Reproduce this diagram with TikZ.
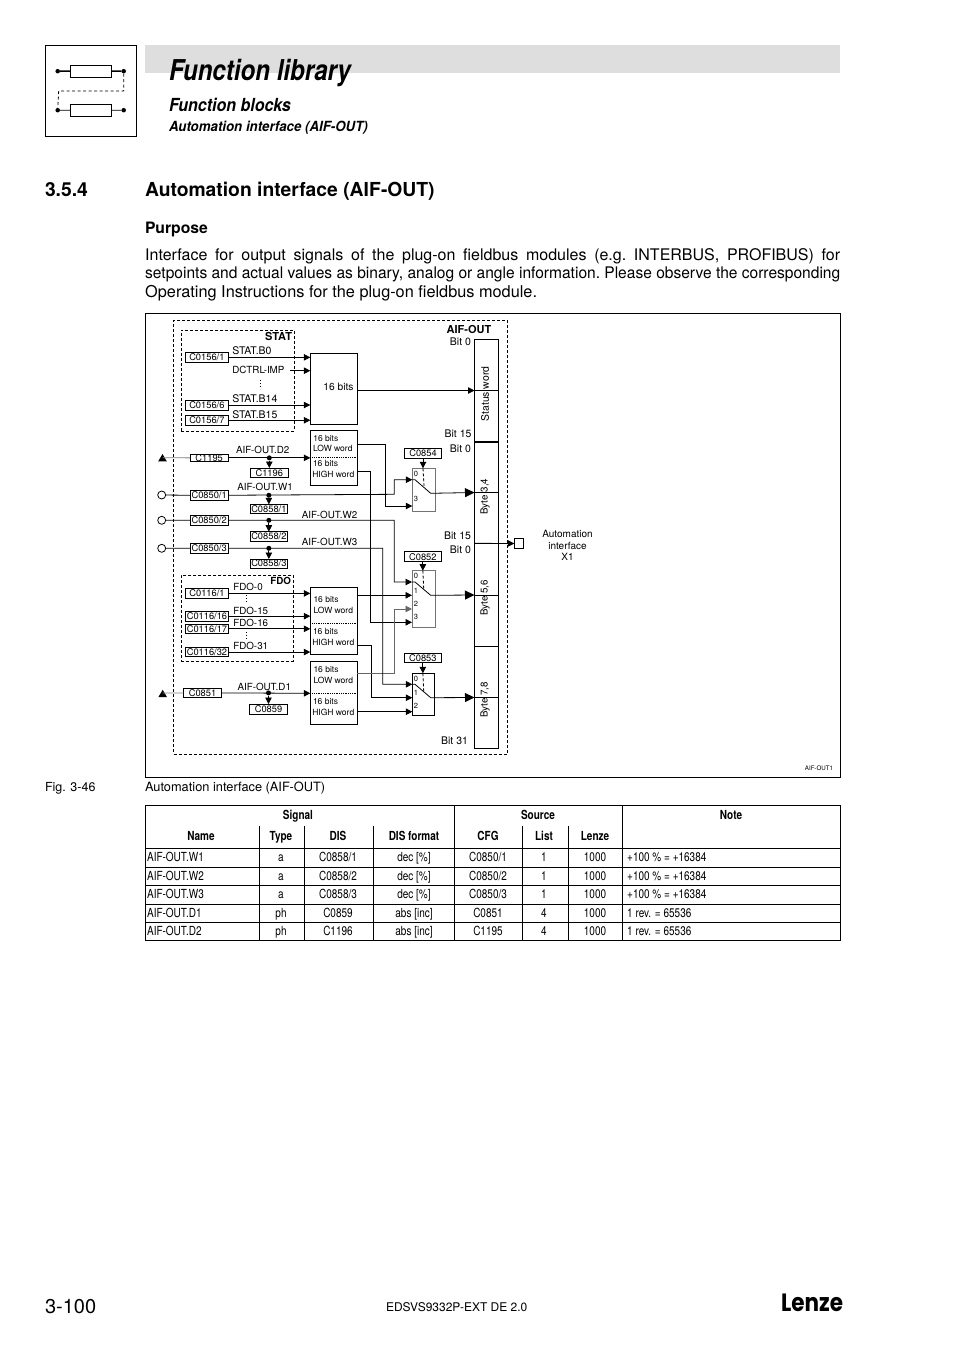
\documentclass[tikz,border=0pt]{standalone}
\usepackage{fontspec}
\usepackage{graphicx}
\setmainfont{TeX Gyre Heros}
\newfontfamily\cond[FakeStretch=0.8]{TeX Gyre Heros}
\newfontfamily\logofont{Poppins}
\usetikzlibrary{arrows.meta}
\newcommand\fs[1]{\fontsize{#1}{#1}\selectfont}
\tikzset{
  rct/.style={draw,rectangle,inner sep=0pt,outer sep=0pt,line width=.8pt},
  dbox/.style={rct,dash pattern=on 3pt off 2pt},
  cbox/.style={rct,font=\fs{9.3}},
  grayb/.style={draw=black!55},
  lbl/.style={inner sep=0pt,outer sep=0pt,font=\fs{9.8}},
  big/.style={lbl,font=\fs{10.5}},
  small/.style={lbl,font=\fs{8.5}},
  num/.style={lbl,font=\fs{7.5}},
  conn/.style={line width=.8pt},
  arr/.style={conn,-{Triangle[length=6.5pt,width=6.5pt]}},
  barr/.style={conn,-{Triangle[length=9.5pt,width=9pt]}},
  gconn/.style={conn,draw=black!50},
  tapdot/.style={circle,fill=black,inner sep=0pt,minimum size=5pt},
  src/.style={circle,draw,inner sep=0pt,minimum size=8pt,line width=.8pt},
  tri/.style={fill=black},
  th/.style={inner sep=0pt,anchor=base,font=\cond\bfseries\fs{12.5}},
  td/.style={inner sep=0pt,anchor=base,font=\cond\fs{12.5}},
  tline/.style={line width=.8pt},
  vdot/.style={line width=1pt,dash pattern=on 1pt off 2pt},
  para/.style={inner sep=0pt,anchor=base west,font=\fs{16}},
}
% [style]{name}{x1}{y1}{x2}{y2}{text}
\newcommand\rn[7][]{%
  \pgfmathsetmacro\myw{#5-#3}\pgfmathsetmacro\myh{#6-#4}%
  \pgfmathsetmacro\mycx{(#3+#5)/2}\pgfmathsetmacro\mycy{(#4+#6)/2}%
  \node[rct,#1,minimum width=\myw pt,minimum height=\myh pt] (#2) at (\mycx,\mycy) {#7};}
\newcommand\trow[8]{%
  \node[td,anchor=base west] (n#1) at (147,#1) {#2};
  \node[td] (t#1) at (281,#1) {#3};
  \node[td] (d#1) at (338,#1) {#4};
  \node[td] (f#1) at (414,#1) {#5};
  \node[td] (c#1) at (488,#1) {#6};
  \node[td] (l#1) at (544,#1) {#7};
  \node[td] (z#1) at (595,#1) {1000};
  \node[td,anchor=base west] (o#1) at (627,#1) {#8};}
\begin{document}
\begin{tikzpicture}[x=1pt,y=-1pt]
\useasboundingbox (0,0) rectangle (954,1350);
% ---------- header
\fill[black!13] (145,45) rectangle (840,73);
\rn{iconbox}{45}{45}{136.7}{136.7}{}
\rn{res1}{70.3}{65}{111.7}{77.3}{}
\rn{res2}{70.3}{104}{111.7}{116.3}{}
\node[circle,fill,inner sep=0pt,minimum size=4.5pt] (p1) at (57.7,71.2) {};
\node[circle,fill,inner sep=0pt,minimum size=4.5pt] (p2) at (123.7,71.2) {};
\node[circle,fill,inner sep=0pt,minimum size=4.5pt] (p3) at (57.7,110.2) {};
\node[circle,fill,inner sep=0pt,minimum size=4.5pt] (p4) at (123.7,110.2) {};
\draw[line width=1.6pt] (p1) -- (res1) (res1) -- (p2);
\draw[conn] (p3) -- (res2) (res2) -- (p4);
\draw[conn,dash pattern=on 3pt off 2.5pt] (p2) |- (58.7,91) -- (p3);
\node[lbl,anchor=base west,font=\bfseries\itshape\fs{28.7}] (title) at (169,80) {\scalebox{.84}[1]{Function library}};
\node[lbl,anchor=base west,font=\bfseries\itshape\fs{18}] (sub1) at (169,111) {\scalebox{.89}[1]{Function blocks}};
\node[lbl,anchor=base west,font=\bfseries\itshape\fs{14}] (sub2) at (169,131.5) {\scalebox{.948}[1]{Automation interface (AIF-OUT)}};
\node[lbl,anchor=base west,font=\bfseries\fs{19.3}] (secnum) at (45,196.6) {3.5.4};
\node[lbl,anchor=base west,font=\bfseries\fs{19.3}] (sectitle) at (145,196.6) {Automation interface (AIF-OUT)};
\node[lbl,anchor=base west,font=\bfseries\fs{15.7}] (purpose) at (145,233.7) {Purpose};
\node[para] (para1) at (145,260.5) {\frenchspacing\makebox[695pt][s]{Interface for output signals of the plug-on fieldbus modules (e.g. INTERBUS, PROFIBUS) for}};
\node[para] (para2) at (145,278.8) {\resizebox{695pt}{\height}{\frenchspacing setpoints and actual values as binary, analog or angle information. Please observe the corresponding}};
\node[para,font=\fs{16.3}] (para3) at (145,297) {Operating Instructions for the plug-on fieldbus module.};
% ---------- diagram frames
\rn{frame}{145.5}{313.5}{840.5}{777}{}
\rn[dbox]{outer}{173.5}{320.5}{507.5}{754}{}
\rn[dbox]{statframe}{181}{330}{294}{431}{}
\rn[dbox]{fdoframe}{181.3}{575}{293.3}{661}{}
% ---------- STAT
\node[lbl,anchor=east,font=\bfseries\fs{11}] (statlbl) at (292,336.7) {STAT};
\rn[cbox]{c1561}{185.7}{352.7}{228}{362}{C0156/1}
\rn[cbox]{c1566}{185.7}{400}{228}{410}{C0156/6}
\rn[cbox]{c1567}{185.7}{415.5}{228}{425}{C0156/7}
\node[big,anchor=west] (sb0) at (232.3,350.7) {STAT.B0};
\node[lbl,anchor=west] (sdc) at (232.3,369.7) {DCTRL-IMP};
\draw[vdot] (260,380) -- (260,389);
\node[big,anchor=west] (sb14) at (232.3,398.7) {STAT.B14};
\node[big,anchor=west] (sb15) at (232.3,414.3) {STAT.B15};
\rn{bits16}{310.3}{353.3}{357.3}{424.3}{}
\node[lbl,font=\fs{10.2}] (bits16t) at (338.5,386.5) {16 bits};
\coordinate (dcstart) at (290,370.7);
\draw[arr] (c1561.east) -- (c1561.east -| bits16.west);
\draw[arr] (dcstart) -- (dcstart -| bits16.west);
\draw[arr] (c1566.east) -- (c1566.east -| bits16.west);
\draw[arr] (c1567.east) -- (c1567.east -| bits16.west);
% ---------- bar
\rn{barS}{474.5}{339.3}{498.5}{441.7}{}
\rn{barB}{474.5}{441.7}{498.5}{543.3}{}
\rn{barC}{474.5}{543.3}{498.5}{646.7}{}
\rn{barD}{474.5}{646.7}{498.5}{748.3}{}
\draw[line width=1.7pt] (barB.north west) -- (barB.north east);
\draw[conn] (barS.west) -- (barS.east);
\draw[conn] (barB.west) -- (barB.east);
\draw[conn] (barC.west) -- (barC.east);
\draw[conn] (barD.west) -- (barD.east);
\node[lbl,rotate=90,font=\fs{10.4}] (tS) at (485,394) {Status word};
\node[lbl,rotate=90] (tB) at (485,496.7) {Byte 3,4};
\node[lbl,rotate=90] (tC) at (485,598) {Byte 5,6};
\node[lbl,rotate=90] (tD) at (485,700) {Byte 7,8};
\node[lbl,font=\bfseries\fs{11}] (aif) at (469,329) {AIF-OUT};
\node[big,anchor=east] (bit0a) at (471,342) {Bit 0};
\node[big,anchor=east] (bit15a) at (471.5,433.3) {Bit 15};
\node[big,anchor=east] (bit0b) at (471,449) {Bit 0};
\node[big,anchor=east] (bit15b) at (471,535.7) {Bit 15};
\node[big,anchor=east] (bit0c) at (471,549.3) {Bit 0};
\node[big,anchor=east] (bit31) at (468,741) {Bit 31};
\draw[arr] (bits16.east |- barS.west) -- (barS.west);
% ---------- X1
\rn{x1}{514.3}{538.7}{523.3}{548.3}{}
\draw[arr] (barB.south west) -- (x1.west);
\node[lbl,align=center,font=\fontsize{10}{11.6}\selectfont] (x1t) at (567.5,545.5) {Automation\\interface\\X1};
\node[lbl,font=\fs{6.2}] (figid) at (819,768.3) {AIF-OUT1};
% ---------- C1195 / D2
\path[tri] (162.5,454) -- (166.8,461.3) -- (158.2,461.3) -- cycle;
\coordinate (t1) at (162.5,457.8);
\rn[cbox]{c1195}{190}{454}{228.3}{461.7}{C1195}
\draw[gconn] (t1) -- (c1195.west);
\node[lbl] (d2l) at (262.7,449.5) {AIF-OUT.D2};
\rn[cbox]{c1196}{250.3}{468}{288.3}{477.3}{C1196}
\rn{hl2}{310.3}{430.3}{357.3}{485.3}{}
\draw[conn,densely dotted] (hl2.west) -- (hl2.east);
\node[small,anchor=west] (h2a) at (313.3,438) {16 bits};
\node[small,anchor=west] (h2b) at (313,448) {LOW word};
\node[small,anchor=west] (h2c) at (313,463.7) {16 bits};
\node[small,anchor=west] (h2d) at (312.3,474) {HIGH word};
\draw[arr] (c1195.east) -- (c1195.east -| hl2.west);
\node[tapdot] (tp1) at (c1196.north |- c1195.east) {};
\draw[arr] (tp1) -- (c1196.north);
% ---------- W1..W3
\node[src] (s1) at (161.7,495) {};
\node[src] (s2) at (161.7,520.3) {};
\node[src] (s3) at (161.7,548.3) {};
\rn[cbox]{c8501}{190}{490.5}{228.3}{500}{C0850/1}
\rn[cbox]{c8502}{190}{515.7}{228.3}{524.9}{C0850/2}
\rn[cbox]{c8503}{190}{543.7}{228.3}{552.9}{C0850/3}
\draw[conn] (s1) -- (c8501.west);
\draw[conn] (s2) -- (c8502.west);
\draw[conn] (s3) -- (c8503.west);
\node[lbl] (w1l) at (265,487.3) {AIF-OUT.W1};
\node[lbl] (w2l) at (329.5,515) {AIF-OUT.W2};
\node[lbl] (w3l) at (329.5,541.7) {AIF-OUT.W3};
\rn[cbox]{c8581}{250}{504.3}{287.7}{513.7}{C0858/1}
\rn[cbox]{c8582}{250}{531.7}{287.7}{540.9}{C0858/2}
\rn[cbox]{c8583}{250}{559}{287.7}{568}{C0858/3}
\node[tapdot] (tp2) at (c8581.north |- c8501.east) {};
\node[tapdot] (tp3) at (c8582.north |- c8502.east) {};
\node[tapdot] (tp4) at (c8583.north |- c8503.east) {};
\draw[arr] (tp2) -- (c8581.north);
\draw[arr] (tp3) -- (c8582.north);
\draw[arr] (tp4) -- (c8583.north);
% ---------- FDO
\node[lbl,anchor=east,font=\bfseries\fs{9.8}] (fdol) at (291,581.3) {FDO};
\rn[cbox]{c1161}{185.7}{588.3}{228.3}{598.5}{C0116/1}
\rn[cbox]{c11616}{185.7}{611.3}{228.3}{621}{C0116/16}
\rn[cbox]{c11617}{185.7}{624}{228.3}{633.6}{C0116/17}
\rn[cbox]{c11632}{185.7}{647.3}{228.3}{656.8}{C0116/32}
\node[lbl,anchor=west] (f0) at (233.3,587.3) {FDO-0};
\draw[vdot] (246.7,595) -- (246.7,604);
\node[lbl,anchor=west] (f15) at (233.3,610.7) {FDO-15};
\node[lbl,anchor=west] (f16) at (233.3,623.3) {FDO-16};
\draw[vdot] (246.7,632) -- (246.7,641);
\node[lbl,anchor=west] (f31) at (233.3,646.3) {FDO-31};
\rn{hl3}{310.3}{587.3}{357.3}{654.3}{}
\coordinate (hl3dot) at (310.3,623.7);
\draw[conn,densely dotted] (hl3dot) -- (hl3dot -| hl3.east);
\node[small,anchor=west] (h3a) at (313.5,599) {16 bits};
\node[small,anchor=west] (h3b) at (313.5,610) {LOW word};
\node[small,anchor=west] (h3c) at (313,631.7) {16 bits};
\node[small,anchor=west] (h3d) at (312.3,642.3) {HIGH word};
\draw[arr] (c1161.east) -- (c1161.east -| hl3.west);
\draw[arr] (c11616.east) -- (c11616.east -| hl3.west);
\draw[arr] (c11617.east) -- (c11617.east -| hl3.west);
\draw[arr] (c11632.east) -- (c11632.east -| hl3.west);
% ---------- C0851 / D1
\path[tri] (162.7,689.8) -- (167,697.1) -- (158.4,697.1) -- cycle;
\coordinate (t2) at (162.7,693);
\rn[cbox]{c851}{183.3}{688.3}{221.7}{697.5}{C0851}
\draw[gconn] (t2) -- (c851.west);
\node[lbl] (d1l) at (264.3,686.7) {AIF-OUT.D1};
\rn[cbox]{c859}{249.3}{704}{287.7}{714.3}{C0859}
\rn{hl4}{310.3}{661.3}{357.3}{724.3}{}
\coordinate (hl4dot) at (310.3,693.3);
\draw[conn,densely dotted] (hl4dot) -- (hl4dot -| hl4.east);
\node[small,anchor=west] (h4a) at (313.5,669.7) {16 bits};
\node[small,anchor=west] (h4b) at (313.5,680) {LOW word};
\node[small,anchor=west] (h4c) at (313,701.7) {16 bits};
\node[small,anchor=west] (h4d) at (312.3,712.7) {HIGH word};
\draw[arr] (c851.east) -- (hl4dot);
\node[tapdot] (tp5) at (c859.north |- c851.east) {};
\draw[arr] (tp5) -- (c859.north);
% ---------- switch C0854
\rn[cbox]{c854}{404.3}{448.7}{441.7}{458}{C0854}
\rn[grayb]{swa}{412.3}{468.3}{435.3}{511}{}
\node[num] (a0) at (416,474) {0};
\node[num] (a3) at (416,499.3) {3};
\coordinate (ai0) at (412.3,479.7);
\coordinate (ai3) at (412.3,506);
\coordinate (apiv) at (415,479.7);
\coordinate (aout) at (430.7,493.3);
\coordinate (adash) at (424,486);
\draw[conn] (ai0) -- (apiv) -- (aout);
\draw[arr] (c854.south) -- (c854.south |- swa.north);
\draw[conn,densely dashed] (c854.south |- swa.north) -- (adash);
\draw[barr] (aout) -- (barB.west);
% ---------- switch C0852
\rn[cbox]{c852}{404}{551.7}{441.7}{561.7}{C0852}
\rn[grayb]{swb}{412}{570.7}{435}{627.3}{}
\node[num] (b0) at (416,576) {0};
\node[num] (b1) at (416,591) {1};
\node[num] (b2) at (416,604) {2};
\node[num] (b3) at (416,616.7) {3};
\coordinate (bi0) at (412,582);
\coordinate (bi1) at (412,595.3);
\coordinate (bi2) at (412,609);
\coordinate (bi3) at (412,622.3);
\coordinate (bpiv) at (415,582);
\coordinate (bout) at (430.7,595.3);
\coordinate (bdash) at (423.7,588.5);
\draw[conn] (bi0) -- (bpiv) -- (bout);
\draw[arr] (c852.south) -- (c852.south |- swb.north);
\draw[conn,densely dashed] (c852.south |- swb.north) -- (bdash);
\draw[barr] (bout) -- (barC.west);
% ---------- switch C0853
\rn[cbox]{c853}{404}{653.7}{441.7}{662.7}{C0853}
\rn{swc}{412.3}{673.3}{434.7}{715.3}{}
\node[num] (c0) at (416,679) {0};
\node[num] (c1) at (416,693.3) {1};
\node[num] (c2) at (416,705.7) {2};
\coordinate (ci0) at (412.3,684.3);
\coordinate (ci1) at (412.3,697.7);
\coordinate (ci2) at (412.3,711.7);
\coordinate (cpiv) at (415,684.3);
\coordinate (cout) at (430.7,697.7);
\coordinate (cdash) at (423.7,691);
\draw[conn] (ci0) -- (cpiv) -- (cout);
\draw[arr] (c853.south) -- (c853.south |- swc.north);
\draw[conn,densely dashed] (c853.south |- swc.north) -- (cdash);
\draw[barr] (cout) -- (barD.west);
% ---------- routing
\coordinate (lo2) at (357.3,444.7);
\coordinate (hi2) at (357.3,471.3);
\coordinate (lo3) at (357.3,595.3);
\coordinate (hi3) at (357.3,645);
\coordinate (lo4) at (357.3,673.3);
\coordinate (hi4) at (357.3,711.7);
\draw[arr] (lo2) -| (385.3,506) -- (ai3);
\draw[arr] (hi2) -| (370.7,622.3) -- (bi3);
\draw[arr] (lo3) -- (bi1);
\draw[arr] (hi3) -| (371.7,697.7) -- (ci1);
\draw[arr,draw=black!60] (lo4) -| (394.3,609) -- (bi2);
\draw[arr] (hi4) -- (ci2);
\draw[arr] (c8501.east) -- (394.3,494.3) |- (ai0);
\draw[arr] (c8502.east) -- (394.3,520.3) |- (bi0);
\draw[arr] (c8503.east) -- (382.7,548.3) |- (ci0);
% ---------- caption
\node[lbl,anchor=base west,font=\fs{12.5}] (figno) at (45,791) {Fig. 3-46};
\node[lbl,anchor=base west,font=\fs{12.8}] (figcap) at (145,791) {Automation interface (AIF-OUT)};
% ---------- table
\rn{tbl}{145.5}{805.5}{840.5}{940.5}{}
\draw[tline] (145.5,848.5) -- (840.5,848.5);
\draw[tline] (145.5,867) -- (840.5,867);
\draw[tline] (145.5,885.5) -- (840.5,885.5);
\draw[tline] (145.5,904) -- (840.5,904);
\draw[tline] (145.5,922) -- (840.5,922);
\draw[tline] (454.5,805.5) -- (454.5,940.5);
\draw[tline] (622.5,805.5) -- (622.5,940.5);
\draw[tline] (259.5,826) -- (259.5,940.5);
\draw[tline] (304.5,826) -- (304.5,940.5);
\draw[tline] (373.5,826) -- (373.5,940.5);
\draw[tline] (522.5,826) -- (522.5,940.5);
\draw[tline] (568.5,826) -- (568.5,940.5);
\node[th] (hsig) at (298,819.3) {Signal};
\node[th] (hsrc) at (538,819.3) {Source};
\node[th] (hnote) at (731,819.3) {Note};
\node[th] (hname) at (201,840.3) {Name};
\node[th] (htype) at (281,840.3) {Type};
\node[th] (hdis) at (338,840.3) {DIS};
\node[th] (hfmt) at (414,840.3) {DIS format};
\node[th] (hcfg) at (488,840.3) {CFG};
\node[th] (hlist) at (544,840.3) {List};
\node[th] (hlen) at (595,840.3) {Lenze};
\trow{861.7}{AIF-OUT.W1}{a}{C0858/1}{dec [\%]}{C0850/1}{1}{+100 \% = +16384}
\trow{880.2}{AIF-OUT.W2}{a}{C0858/2}{dec [\%]}{C0850/2}{1}{+100 \% = +16384}
\trow{898.7}{AIF-OUT.W3}{a}{C0858/3}{dec [\%]}{C0850/3}{1}{+100 \% = +16384}
\trow{917.2}{AIF-OUT.D1}{ph}{C0859}{abs [inc]}{C0851}{4}{1 rev. = 65536}
\trow{935.7}{AIF-OUT.D2}{ph}{C1196}{abs [inc]}{C1195}{4}{1 rev. = 65536}
% ---------- footer
\node[lbl,anchor=west,font=\fs{20}] (pageno) at (45,1307) {3-100};
\node[lbl,anchor=west,font=\fs{12}] (docid) at (386,1307.5) {EDSVS9332P-EXT DE 2.0};
\node[lbl,anchor=east,font=\logofont\bfseries\fs{25}] (logo) at (843,1302.5) {\scalebox{.86}[1]{Lenze}};
\end{tikzpicture}
\end{document}
